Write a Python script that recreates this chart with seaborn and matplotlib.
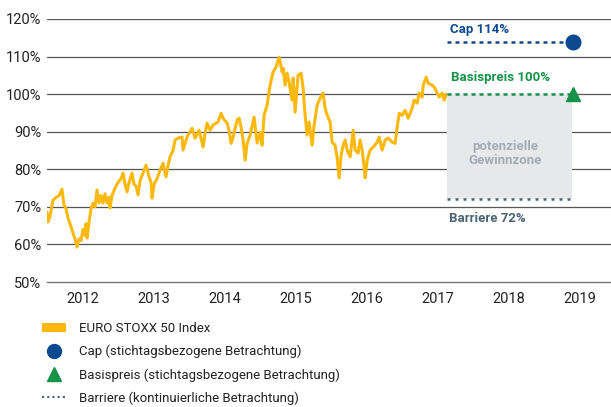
import matplotlib
matplotlib.use('Agg')
import matplotlib.pyplot as plt
import seaborn as sns
import pandas as pd
from matplotlib.lines import Line2D
from matplotlib.patches import Patch, Rectangle

# EURO STOXX 50 relative to strike, time in decimal years
years = [2012.000, 2012.014, 2012.042, 2012.085, 2012.127, 2012.169, 2012.211, 2012.239,
         2012.268, 2012.296, 2012.324, 2012.366, 2012.394, 2012.423, 2012.451, 2012.479,
         2012.507, 2012.535, 2012.549, 2012.563, 2012.592, 2012.620, 2012.648, 2012.676,
         2012.704, 2012.732, 2012.761, 2012.789, 2012.817, 2012.845, 2012.873, 2012.887,
         2012.915, 2012.958, 2013.000, 2013.042, 2013.070, 2013.099, 2013.127, 2013.155,
         2013.197, 2013.225, 2013.254, 2013.282, 2013.310, 2013.352, 2013.394, 2013.437,
         2013.465, 2013.479, 2013.507, 2013.549, 2013.592, 2013.634, 2013.676, 2013.704,
         2013.732, 2013.775, 2013.803, 2013.845, 2013.901, 2013.915, 2013.972, 2014.042,
         2014.085, 2014.141, 2014.197, 2014.225, 2014.254, 2014.296, 2014.338, 2014.408,
         2014.451, 2014.479, 2014.535, 2014.563, 2014.592, 2014.620, 2014.676, 2014.704,
         2014.732, 2014.761, 2014.789, 2014.817, 2014.859, 2014.915, 2014.958, 2015.000,
         2015.028, 2015.056, 2015.099, 2015.141, 2015.183, 2015.225, 2015.268, 2015.310,
         2015.324, 2015.352, 2015.380, 2015.408, 2015.451, 2015.465, 2015.493, 2015.535,
         2015.577, 2015.606, 2015.634, 2015.662, 2015.690, 2015.732, 2015.761, 2015.803,
         2015.845, 2015.887, 2015.915, 2015.944, 2015.986, 2016.014, 2016.056, 2016.085,
         2016.113, 2016.141, 2016.169, 2016.197, 2016.225, 2016.268, 2016.310, 2016.338,
         2016.380, 2016.408, 2016.437, 2016.465, 2016.479, 2016.507, 2016.549, 2016.592,
         2016.648, 2016.676, 2016.718, 2016.761, 2016.803, 2016.859, 2016.901, 2016.930,
         2016.958, 2017.000, 2017.042, 2017.085, 2017.141, 2017.169, 2017.211, 2017.239,
         2017.282, 2017.296, 2017.338, 2017.366, 2017.423, 2017.451, 2017.493, 2017.521,
         2017.563, 2017.592, 2017.620]
index_pct = [68.6, 66.0, 67.5, 71.8, 72.5, 73.0, 74.7, 70.5,
             69.5, 67.0, 65.5, 63.0, 61.5, 59.3, 61.5, 61.0,
             64.0, 62.5, 65.5, 61.7, 66.0, 69.5, 71.0, 70.0,
             74.5, 71.0, 73.0, 71.0, 73.5, 71.0, 72.5, 69.7,
             73.0, 75.0, 76.5, 77.5, 79.0, 76.0, 74.0, 76.5,
             79.0, 76.0, 75.5, 73.2, 77.0, 79.0, 81.1, 78.0,
             76.5, 72.3, 76.0, 77.5, 79.8, 81.6, 78.0, 81.0,
             83.3, 85.0, 87.8, 88.3, 88.6, 85.1, 88.6, 90.9,
             88.3, 90.4, 85.9, 89.6, 92.3, 90.4, 91.8, 92.6,
             94.9, 93.6, 92.3, 90.4, 86.9, 88.6, 93.1, 93.6,
             91.2, 87.8, 82.4, 86.9, 89.0, 93.9, 87.0, 89.8,
             86.4, 94.4, 97.1, 102.4, 105.9, 107.2, 109.8, 105.9,
             106.9, 102.4, 105.6, 103.2, 98.4, 104.3, 95.2, 105.0,
             105.6, 101.6, 94.4, 89.1, 92.6, 86.4, 91.8, 97.1,
             98.9, 100.3, 96.3, 94.4, 92.6, 87.2, 86.4, 83.0,
             77.7, 83.8, 86.4, 87.8, 85.1, 83.3, 90.4, 85.1,
             84.3, 87.8, 85.1, 80.6, 77.7, 82.4, 85.1, 85.9,
             87.2, 88.6, 85.1, 87.8, 88.3, 87.2, 86.9, 91.2,
             94.9, 94.4, 95.7, 93.6, 96.3, 98.4, 97.6, 100.3,
             99.2, 102.4, 104.5, 102.9, 102.4, 101.9, 100.3, 99.2,
             100.3, 98.4, 100.0]

year_labels = ['2012', '2013', '2014', '2015', '2016', '2017', '2018', '2019']
cap_level = 114
strike_level = 100
barrier_level = 72
product_start = 2017.63
product_end = 2019.39

GOLD = '#fbb80f'
BLUE = '#0b4a90'
GREEN = '#16924a'
SLATE = '#4b6374'

sns.set_style('white')
plt.rcParams['font.family'] = ['Roboto', 'DejaVu Sans']

df = pd.DataFrame({'year': years, 'pct': index_pct})

fig = plt.figure(figsize=(6.11, 4.07), dpi=100)
ax = fig.add_axes([47 / 611, 1 - 282 / 407, 1 - 47 / 611, (282 - 19) / 407])

for y in range(60, 121, 10):
    ax.axhline(y, color='#555555', lw=0.9, zorder=1)

# potential profit zone
ax.add_patch(Rectangle((product_start, barrier_level), product_end - product_start,
                       strike_level - barrier_level, facecolor='#e6e9ec',
                       edgecolor='none', zorder=2))
ax.text(2018.45, 84.3, 'potenzielle\nGewinnzone', ha='center', va='center',
        color='#a4adb5', fontsize=9.5, fontweight='bold', linespacing=1.1, zorder=3)

sns.lineplot(data=df, x='year', y='pct', color=GOLD, lw=2.2, ax=ax, zorder=4)

ax.plot([product_start, product_end], [cap_level, cap_level], color=BLUE, lw=1.8,
        ls=(0, (1.6, 1.6)), zorder=4)
ax.plot([product_start, product_end], [strike_level, strike_level], color=GREEN, lw=1.8,
        ls=(0, (1.6, 1.6)), zorder=4)
ax.plot([product_start, product_end], [barrier_level, barrier_level], color=SLATE, lw=1.8,
        ls=(0, (1.2, 2.0)), zorder=4)
ax.plot([product_end + 0.01], [cap_level], marker='o', ms=10.5, color=BLUE, zorder=5)
ax.plot([product_end + 0.01], [strike_level], marker='^', ms=10.5, color=GREEN, zorder=5)

ax.text(product_start + 0.04, 117.2, 'Cap 114%', color=BLUE, fontsize=9.5,
        fontweight='bold', va='center')
ax.text(product_start + 0.06, 104.3, 'Basispreis 100%', color=GREEN, fontsize=9.5,
        fontweight='bold', va='center')
ax.text(product_start + 0.03, 66.8, 'Barriere 72%', color=SLATE, fontsize=9.5,
        fontweight='bold', va='center')

ax.set_xlim(2012, 2019.94)
ax.set_ylim(50, 120)
ax.set_yticks(range(50, 121, 10))
ax.set_yticklabels([f'{v}%' for v in range(50, 121, 10)])
ax.set_xticks(range(2012, 2020))
ax.set_xticklabels([])
ax.set_xticks([2012.5 + i for i in range(len(year_labels))], minor=True)
ax.set_xticklabels(year_labels, minor=True)
ax.tick_params(axis='x', which='major', length=4, width=0.9, color='#777777', direction='out')
ax.tick_params(axis='x', which='minor', length=0, pad=7, labelsize=10.5, labelcolor='#222222')
ax.tick_params(axis='y', length=0, pad=4, labelsize=10.5, labelcolor='#222222')
ax.set_xlabel('')
ax.set_ylabel('')
for side in ['left', 'right', 'top']:
    ax.spines[side].set_visible(False)
ax.spines['bottom'].set_color('#777777')
ax.spines['bottom'].set_linewidth(1.0)

handles = [
    Patch(facecolor=GOLD, edgecolor='none'),
    Line2D([], [], ls='none', marker='o', ms=10, color=BLUE),
    Line2D([], [], ls='none', marker='^', ms=10, color=GREEN),
    Line2D([], [], color=SLATE, lw=1.5, ls=(0, (1, 1.5))),
]
labels = ['EURO STOXX 50 Index',
          'Cap (stichtagsbezogene Betrachtung)',
          'Basispreis (stichtagsbezogene Betrachtung)',
          'Barriere (kontinuierliche Betrachtung)']
fig.legend(handles, labels, loc='upper left', bbox_to_anchor=(30 / 611, 1 - 310 / 407),
           frameon=False, fontsize=9.5, labelspacing=0.75, handlelength=1.8,
           handleheight=0.7, handletextpad=1.0, labelcolor='#222222')

fig.savefig('out.png', dpi=100)
